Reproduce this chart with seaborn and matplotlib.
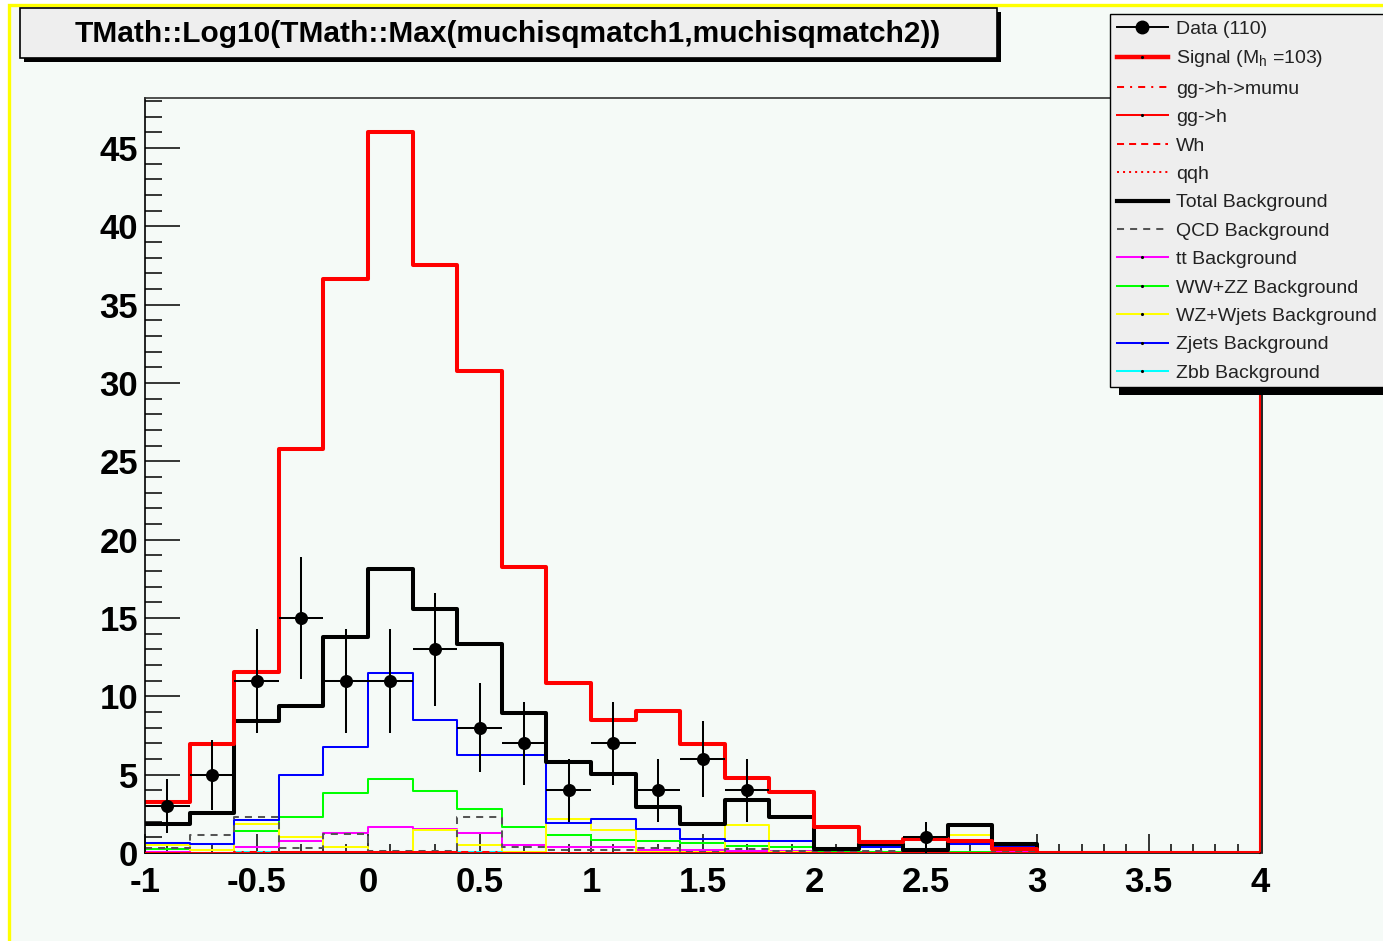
import numpy as np
import pandas as pd
import matplotlib
matplotlib.use("Agg")
import matplotlib.pyplot as plt
from matplotlib.lines import Line2D
from matplotlib.patches import Rectangle
from matplotlib.ticker import MultipleLocator
import seaborn as sns

# ---------------------------------------------------------------------------
# log10(max(muchisqmatch1, muchisqmatch2)) : 25 bins of width 0.2 in [-1, 4]
# ---------------------------------------------------------------------------
x_min, x_max, n_bins = -1.0, 4.0, 25

data_counts = [3, 5, 11, 15, 11, 11, 13, 8, 7, 4, 7, 4, 6, 4, 0,
               0, 0, 1, 0, 0, 0, 0, 0, 0, 0]

signal = [3.25, 6.98, 11.56, 25.78, 36.65, 46.0, 37.56, 30.79, 18.25, 10.85,
          8.5, 9.05, 6.98, 4.8, 3.88, 1.65, 0.69, 0.9, 0.76, 0.25,
          0, 0, 0, 0, 0]

ggh_mumu = [0.02, 0.03, 0.04, 0.05, 0.05, 0.05, 0.05, 0.04, 0.03, 0.02,
            0.02, 0.02, 0.01, 0.01, 0.01, 0.01, 0.01, 0.01, 0.01, 0.01,
            0, 0, 0, 0, 0]
ggh = [0.01, 0.02, 0.03, 0.04, 0.04, 0.04, 0.04, 0.03, 0.02, 0.02,
       0.01, 0.01, 0.01, 0.01, 0.01, 0.01, 0.01, 0.01, 0.01, 0.01,
       0, 0, 0, 0, 0]
wh = [0.01, 0.01, 0.02, 0.03, 0.03, 0.04, 0.03, 0.03, 0.02, 0.01,
      0.01, 0.01, 0.01, 0.01, 0.01, 0.01, 0.01, 0.01, 0.01, 0.01,
      0, 0, 0, 0, 0]
qqh = [0.01, 0.01, 0.01, 0.02, 0.02, 0.02, 0.02, 0.02, 0.01, 0.01,
       0.01, 0.01, 0.01, 0.01, 0.01, 0.01, 0.01, 0.01, 0.01, 0.01,
       0, 0, 0, 0, 0]

total_bkg = [1.87, 2.55, 8.4, 9.38, 13.8, 18.13, 15.57, 13.37, 8.94, 5.8,
             5.07, 2.95, 1.87, 3.4, 2.29, 0.27, 0.59, 0.22, 1.76, 0.56,
             0, 0, 0, 0, 0]
qcd_bkg = [0.3, 1.16, 2.33, 0.3, 1.23, 0.15, 0.15, 2.33, 0.4, 0.2,
           0.2, 0.35, 0.05, 0.25, 0.1, 0.05, 0.1, 0.05, 0.0, 0.1,
           0, 0, 0, 0, 0]
tt_bkg = [0.08, 0.16, 0.37, 0.75, 1.29, 1.65, 1.54, 1.29, 0.54, 0.37,
          0.37, 0.22, 0.22, 0.15, 0.15, 0.05, 0.05, 0.05, 0.05, 0.05,
          0, 0, 0, 0, 0]
wwzz_bkg = [0.27, 0.55, 1.4, 2.29, 3.82, 4.74, 3.95, 2.83, 1.65, 1.18,
            0.86, 0.75, 0.63, 0.42, 0.37, 0.05, 0.05, 0.03, 0.05, 0.03,
            0, 0, 0, 0, 0]
wzwjets_bkg = [0.48, 0.2, 1.87, 1.01, 0.37, 0.05, 1.44, 0.54, 0.05, 2.14,
               1.5, 0.05, 0.05, 1.8, 0.05, 0.02, 0.02, 0.02, 1.16, 0.02,
               0, 0, 0, 0, 0]
zjets_bkg = [0.65, 0.6, 2.1, 5.0, 6.77, 11.52, 8.47, 6.28, 6.28, 1.9,
             2.14, 1.54, 0.9, 0.75, 0.75, 0.16, 0.37, 0.1, 0.59, 0.37,
             0, 0, 0, 0, 0]
zbb_bkg = [0.03, 0.03, 0.04, 0.04, 0.05, 0.05, 0.05, 0.04, 0.03, 0.03,
           0.02, 0.02, 0.02, 0.02, 0.02, 0.01, 0.01, 0.01, 0.01, 0.01,
           0, 0, 0, 0, 0]

y_ticks = [0, 5, 10, 15, 20, 25, 30, 35, 40, 45]
x_ticks = [-1, -0.5, 0, 0.5, 1, 1.5, 2, 2.5, 3, 3.5, 4]
x_tick_labels = ["-1", "-0.5", "0", "0.5", "1", "1.5", "2", "2.5", "3", "3.5", "4"]
y_top = 48.2

title = "TMath::Log10(TMath::Max(muchisqmatch1,muchisqmatch2))"

# ---------------------------------------------------------------------------
edges = np.linspace(x_min, x_max, n_bins + 1)
centers = 0.5 * (edges[:-1] + edges[1:])
half_width = 0.5 * (edges[1] - edges[0])

W, H = 1383, 941
PAD = "#F5FAF7"
BOX = "#EEEEEE"
THIN = 1.45

plt.rcParams["font.family"] = ["Liberation Sans", "DejaVu Sans"]
plt.rcParams["axes.unicode_minus"] = False
plt.rcParams["mathtext.fontset"] = "custom"
plt.rcParams["mathtext.rm"] = "Liberation Sans"
plt.rcParams["mathtext.it"] = "Liberation Sans"

fig = plt.figure(figsize=(W / 100, H / 100), dpi=100)
fig.patch.set_facecolor("white")

# canvas with its yellow border on the left and top
fig.add_artist(Rectangle((8.5 / W, -0.05), 1.1, 1 - 5 / H + 0.05,
                         transform=fig.transFigure, facecolor=PAD,
                         edgecolor="#FFFF00", linewidth=2.4, zorder=-10))

ax = fig.add_axes([145 / W, 1 - 853 / H, (1260 - 145) / W, (853 - 98) / H])
ax.set_facecolor(PAD)

# frame
for side in ("left", "bottom", "right"):
    ax.spines[side].set_linewidth(1.2)
    ax.spines[side].set_color("black")
ax.spines["right"].set_position(("outward", 1.5))
ax.spines["top"].set_linewidth(1.2)
ax.spines["top"].set_color("#333333")


def draw_hist(values, **kw):
    frame = pd.DataFrame({"x": centers, "w": np.asarray(values, dtype=float)})
    sns.histplot(data=frame, x="x", weights="w", bins=edges.tolist(),
                 element="step", fill=False, ax=ax, **kw)


draw_hist(zbb_bkg, color="#00FFFF", linewidth=THIN, zorder=2.6)
draw_hist(tt_bkg, color="#FF00FF", linewidth=THIN)
draw_hist(wwzz_bkg, color="#00FF00", linewidth=THIN)
draw_hist(wzwjets_bkg, color="#FFFF00", linewidth=THIN)
draw_hist(zjets_bkg, color="#0000FF", linewidth=THIN)
draw_hist(qcd_bkg, color="#555555", linewidth=THIN, linestyle=(0, (3.5, 3)))
draw_hist(total_bkg, color="black", linewidth=2.9)
draw_hist(ggh, color="red", linewidth=THIN, zorder=2.6)
draw_hist(ggh_mumu, color="red", linewidth=THIN,
          linestyle=(0, (3.5, 3, 1, 3)), zorder=2.7)
draw_hist(wh, color="red", linewidth=THIN, linestyle=(0, (3.5, 2.5)),
          zorder=2.7)
draw_hist(qqh, color="red", linewidth=THIN, linestyle=(0, (1, 2)), zorder=2.7)
draw_hist(signal, color="red", linewidth=2.9)

# upper edge of the histogram range
ax.axvline(edges[-1], color="red", linewidth=1.5, zorder=2.4, clip_on=False)

# data points with Poisson errors
counts = np.asarray(data_counts, dtype=float)
mask = counts > 0
ax.errorbar(centers[mask], counts[mask], xerr=half_width,
            yerr=np.sqrt(counts[mask]), fmt="none", ecolor="black",
            elinewidth=1.45, capsize=0, zorder=10)
sns.scatterplot(x=centers[mask], y=counts[mask], color="black", s=88,
                linewidth=0, ax=ax, zorder=11, legend=False)

ax.set_xlim(x_min, x_max)
ax.set_ylim(0, y_top)
ax.set_xlabel("")
ax.set_ylabel("")

ax.xaxis.set_minor_locator(MultipleLocator(0.1))
ax.yaxis.set_minor_locator(MultipleLocator(1))
ax.set_xticks(x_ticks, labels=x_tick_labels, fontweight="bold", fontsize=25)
ax.set_yticks(y_ticks, labels=[str(v) for v in y_ticks],
              fontweight="bold", fontsize=25)
ax.tick_params(axis="y", which="major", direction="in", length=25,
               width=1.1, pad=5, colors="black")
ax.tick_params(axis="y", which="minor", direction="in", length=12.5, width=1.1)
ax.tick_params(axis="x", which="major", direction="in", length=13.5,
               width=1.1, pad=9)
ax.tick_params(axis="x", which="minor", direction="in", length=6.5, width=1.1)

# title box with shadow
fig.add_artist(Rectangle(((20 + 4) / W, 1 - (58 + 4) / H), (997 - 20) / W,
                         (58 - 8) / H, transform=fig.transFigure,
                         facecolor="black", edgecolor="none", zorder=14))
fig.add_artist(Rectangle((20 / W, 1 - 58 / H), (997 - 20) / W, (58 - 8) / H,
                         transform=fig.transFigure, facecolor=BOX,
                         edgecolor="black", linewidth=1.2, zorder=15))
fig.text(508 / W, 1 - 34 / H, title, ha="center", va="center",
         fontsize=21.5, fontweight="bold", color="black", zorder=16)

# legend box with shadow
fig.add_artist(Rectangle(((1110 + 9) / W, 1 - (387 + 8) / H), 0.3,
                         (387 - 14) / H, transform=fig.transFigure,
                         facecolor="black", edgecolor="none", zorder=14))
fig.add_artist(Rectangle((1110 / W, 1 - 387 / H), 0.3, (387 - 14) / H,
                         transform=fig.transFigure, facecolor=BOX,
                         edgecolor="black", linewidth=1.0, zorder=15))

dot = dict(marker=".", markersize=2.5, markerfacecolor="black",
           markeredgecolor="black")
handles = [
    Line2D([], [], color="black", linewidth=1.4, marker="o", markersize=9,
           markerfacecolor="black", markeredgecolor="black"),
    Line2D([], [], color="red", linewidth=3.2, **dot),
    Line2D([], [], color="red", linewidth=THIN, linestyle=(0, (3.5, 3, 1, 3))),
    Line2D([], [], color="red", linewidth=THIN, **dot),
    Line2D([], [], color="red", linewidth=THIN, linestyle=(0, (3.5, 2.5))),
    Line2D([], [], color="red", linewidth=THIN, linestyle=(0, (1, 2))),
    Line2D([], [], color="black", linewidth=3.0),
    Line2D([], [], color="#555555", linewidth=THIN, linestyle=(0, (3.5, 3))),
    Line2D([], [], color="#FF00FF", linewidth=THIN, **dot),
    Line2D([], [], color="#00FF00", linewidth=THIN, **dot),
    Line2D([], [], color="#FFFF00", linewidth=THIN, **dot),
    Line2D([], [], color="#0000FF", linewidth=THIN, **dot),
    Line2D([], [], color="#00FFFF", linewidth=THIN, **dot),
]
labels = [
    "Data (110)",
    r"Signal (M$_{\mathrm{h}}$ =103)",
    "gg->h->mumu",
    "gg->h",
    "Wh",
    "qqh",
    "Total Background",
    "QCD Background",
    "tt Background",
    "WW+ZZ Background",
    "WZ+Wjets Background",
    "Zjets Background",
    "Zbb Background",
]
leg = fig.legend(handles, labels, loc="upper left",
                 bbox_to_anchor=(1117 / W, 1 - 20 / H), frameon=False,
                 fontsize=14, handlelength=2.6, handletextpad=0.45,
                 labelspacing=0.555, borderpad=0, borderaxespad=0,
                 numpoints=1)
leg.set_zorder(20)
for t in leg.get_texts():
    t.set_color("#222222")

fig.savefig("out.png", dpi=100, facecolor=fig.get_facecolor())
